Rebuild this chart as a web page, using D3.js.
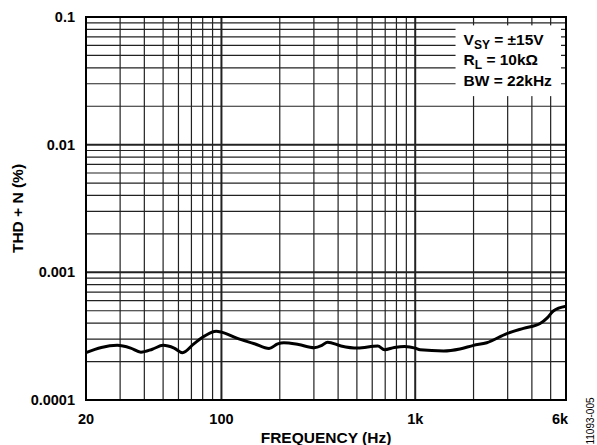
<!DOCTYPE html>
<html>
<head>
<meta charset="utf-8">
<script src="https://cdn.jsdelivr.net/npm/d3@7"></script>
<style>
  body { margin: 0; background: #fff; }
  text { font-family: "Liberation Sans", Arial, sans-serif; font-weight: bold; fill: #000; }
</style>
</head>
<body>
<svg id="chart"></svg>
<script>
// measured THD+N curve
var freqHz = [20, 24, 29, 34, 38.4, 44, 50, 57, 63, 72, 82, 94, 100, 120, 148, 176, 195, 210, 250, 301, 330, 353, 414, 505, 641, 694, 780, 881, 1000, 1060, 1400, 1700, 2000, 2340, 2970, 3620, 4410, 4800, 5160, 6000];
var thdPct = [0.000235, 0.000258, 0.000268, 0.000255, 0.000237, 0.000250, 0.000268, 0.000255, 0.000235, 0.000275, 0.000318, 0.000345, 0.000340, 0.000305, 0.000276, 0.000253, 0.000275, 0.000281, 0.000272, 0.000257, 0.000268, 0.000284, 0.000265, 0.000255, 0.000265, 0.000248, 0.000258, 0.000263, 0.000255, 0.000247, 0.000242, 0.000251, 0.000268, 0.000281, 0.000331, 0.000364, 0.000397, 0.000440, 0.000498, 0.000542];

var xTickVals = [20, 100, 1000, 6000];
var xTickLabels = ["20", "100", "1k", "6k"];
var yTickVals = [0.0001, 0.001, 0.01, 0.1];
var yTickLabels = ["0.0001", "0.001", "0.01", "0.1"];
var legendLines = [["V", "SY", " = \u00b115V"], ["R", "L", " = 10k\u03a9"], ["BW", "", " = 22kHz"]];

var W = 597, H = 445;
var margin = {top: 17, right: 31, bottom: 45, left: 86};
var width = W - margin.left - margin.right,
    height = H - margin.top - margin.bottom;

var svg = d3.select("#chart").attr("width", W).attr("height", H);
var g = svg.append("g")
    .attr("transform", "translate(" + margin.left + "," + margin.top + ")");

var x = d3.scaleLog().domain([20, 6000]).range([0, width]);
var y = d3.scaleLog().domain([0.0001, 0.1]).range([height, 0]);

// grid values
var xGrid = [];
[10, 100, 1000].forEach(function(dec) {
  for (var k = 1; k <= 9; k++) {
    var v = k * dec;
    if (v > 20 && v < 6000) xGrid.push(v);
  }
});
var yGrid = [];
[0.0001, 0.001, 0.01].forEach(function(dec) {
  for (var k = 2; k <= 9; k++) yGrid.push(k * dec);
});
yGrid.push(0.001, 0.01);

g.selectAll("line.vgrid").data(xGrid).enter().append("line")
    .attr("class", "vgrid")
    .attr("x1", function(d) { return x(d); })
    .attr("x2", function(d) { return x(d); })
    .attr("y1", 0).attr("y2", height)
    .attr("stroke", "#222")
    .attr("stroke-width", function(d) { return (d === 100 || d === 1000) ? 2 : 1.2; });

g.selectAll("line.hgrid").data(yGrid).enter().append("line")
    .attr("class", "hgrid")
    .attr("x1", 0).attr("x2", width)
    .attr("y1", function(d) { return y(d); })
    .attr("y2", function(d) { return y(d); })
    .attr("stroke", "#222")
    .attr("stroke-width", function(d) { return (d === 0.001 || d === 0.01) ? 2 : 1.2; });

// legend box covers the grid
var lx = x(2000) - 18, ly = y(0.086), lb = y(0.024);
g.append("rect")
    .attr("x", lx).attr("y", ly)
    .attr("width", width - 5 - lx).attr("height", lb - ly)
    .attr("fill", "#fff");

var leg = g.selectAll("text.leg").data(legendLines).enter().append("text")
    .attr("class", "leg")
    .attr("x", lx + 8)
    .attr("y", function(d, i) { return [28, 48, 69][i]; })
    .style("font-size", "15.5px");
leg.append("tspan").text(function(d) { return d[0]; });
leg.append("tspan").attr("dy", 4).style("font-size", "12px").text(function(d) { return d[1]; });
leg.append("tspan").attr("dy", function(d) { return d[1] ? -4 : 0; }).text(function(d) { return d[2]; });

// curve
var line = d3.line()
    .x(function(d, i) { return x(freqHz[i]); })
    .y(function(d) { return y(d); })
    .curve(d3.curveMonotoneX);

g.append("path")
    .datum(thdPct)
    .attr("d", line)
    .attr("fill", "none")
    .attr("stroke", "#000")
    .attr("stroke-width", 3)
    .attr("stroke-linejoin", "round");

// frame
g.append("rect")
    .attr("width", width).attr("height", height)
    .attr("fill", "none").attr("stroke", "#000").attr("stroke-width", 2);

// tick labels
g.selectAll("text.xt").data(xTickVals).enter().append("text")
    .attr("class", "xt")
    .attr("x", function(d) { return x(d); })
    .attr("dx", function(d, i) { return i === xTickVals.length - 1 ? -6 : 0; })
    .attr("y", height + 24)
    .attr("text-anchor", "middle")
    .style("font-size", "14.5px")
    .text(function(d, i) { return xTickLabels[i]; });

g.selectAll("text.yt").data(yTickVals).enter().append("text")
    .attr("class", "yt")
    .attr("x", -11)
    .attr("y", function(d) { return y(d) + 5; })
    .attr("text-anchor", "end")
    .style("font-size", "14.5px")
    .text(function(d, i) { return yTickLabels[i]; });

// axis titles
g.append("text")
    .attr("x", width / 2).attr("y", height + 43)
    .attr("text-anchor", "middle")
    .style("font-size", "15.5px")
    .text("FREQUENCY (Hz)");

g.append("text")
    .attr("transform", "translate(" + (-63) + "," + (height / 2) + ") rotate(-90)")
    .attr("text-anchor", "middle")
    .style("font-size", "15.5px")
    .text("THD + N (%)");

svg.append("text")
    .attr("transform", "translate(594,421) rotate(-90)")
    .attr("text-anchor", "middle")
    .style("font-size", "10px")
    .style("font-weight", "normal")
    .text("11093-005");
</script>
</body>
</html>
